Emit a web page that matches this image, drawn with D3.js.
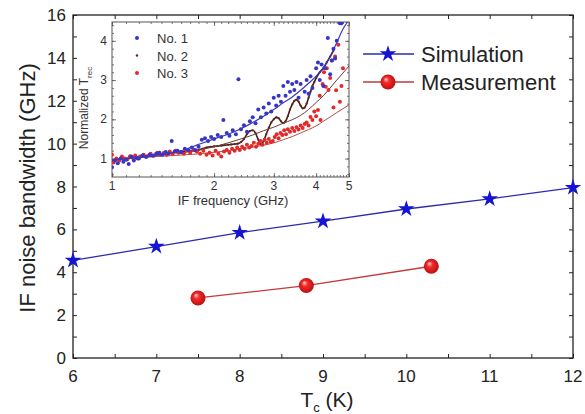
<!DOCTYPE html>
<html>
<head>
<meta charset="utf-8">
<script src="https://cdn.jsdelivr.net/npm/d3@7"></script>
<style>
  body { margin: 0; background: #fff; }
  svg { display: block; font-family: "Liberation Sans", Arial, sans-serif; }
</style>
</head>
<body>
<div id="chart"></div>
<script>
// main plot data: IF noise bandwidth vs Tc
const simTc = [6, 7, 8, 9, 10, 11, 12];
const simBw = [4.55, 5.2, 5.85, 6.38, 6.95, 7.42, 7.95];
const measTc = [7.5, 8.8, 10.3];
const measBw = [2.8, 3.38, 4.28];

const xTicks = [6, 7, 8, 9, 10, 11, 12];
const yTicks = [0, 2, 4, 6, 8, 10, 12, 14, 16];

// inset data: normalized Trec vs IF frequency, [GHz, Trec]
const no1 = [[1.0,0.78],[1.02,0.95],[1.04,0.88],[1.06,1.0],[1.08,0.92],[1.1,0.97],[1.12,0.86],[1.14,1.05],[1.16,0.95],[1.18,1.02],[1.2,1.0],[1.23,1.08],[1.26,1.04],[1.29,1.1],[1.32,1.07],[1.35,1.12],[1.38,1.15],[1.41,1.1],[1.44,1.17],[1.47,1.13],[1.5,1.45],[1.53,1.18],[1.56,1.2],[1.6,1.16],[1.64,1.25],[1.68,1.22],[1.72,1.28],[1.76,1.22],[1.8,1.3],[1.84,1.48],[1.88,1.52],[1.92,1.45],[1.96,1.55],[2.0,1.5],[2.05,1.6],[2.1,1.55],[2.13,1.98],[2.18,1.65],[2.22,1.58],[2.27,1.72],[2.32,1.62],[2.36,3.02],[2.4,1.75],[2.45,1.85],[2.5,1.68],[2.55,1.95],[2.6,2.05],[2.65,1.9],[2.7,2.25],[2.75,2.05],[2.8,2.3],[2.85,2.15],[2.9,2.4],[2.95,2.2],[3.0,2.55],[3.05,2.35],[3.1,2.6],[3.15,2.45],[3.2,2.85],[3.25,2.6],[3.3,2.95],[3.35,2.7],[3.4,2.9],[3.45,2.75],[3.5,2.95],[3.55,2.55],[3.6,2.9],[3.7,2.7],[3.75,3.0],[3.8,2.65],[3.85,3.1],[3.9,2.8],[4.0,3.3],[4.05,3.45],[4.1,3.0],[4.15,3.4],[4.2,2.85],[4.25,3.3],[4.33,4.07],[4.4,3.15],[4.45,3.5],[4.5,3.8],[4.55,3.55],[4.6,4.0],[4.7,4.45],[4.75,4.45]];

const no2 = [[1.0,0.95],[1.05,0.98],[1.1,1.0],[1.15,1.02],[1.2,1.04],[1.25,1.06],[1.3,1.08],[1.35,1.1],[1.4,1.11],[1.45,1.13],[1.5,1.14],[1.55,1.16],[1.6,1.17],[1.65,1.18],[1.7,1.19],[1.75,1.2],[1.8,1.22],[1.85,1.25],[1.9,1.28],[1.95,1.3],[2.0,1.31],[2.05,1.32],[2.1,1.33],[2.15,1.34],[2.2,1.35],[2.25,1.36],[2.3,1.37],[2.35,1.38],[2.4,1.42],[2.45,1.5],[2.5,1.62],[2.55,1.7],[2.6,1.72],[2.65,1.65],[2.7,1.48],[2.75,1.36],[2.8,1.45],[2.85,1.62],[2.9,1.78],[2.95,1.92],[3.0,2.0],[3.05,2.05],[3.1,2.03],[3.15,1.95],[3.2,1.9],[3.25,1.95],[3.3,2.08],[3.35,2.25],[3.4,2.38],[3.45,2.47],[3.5,2.5],[3.55,2.45],[3.6,2.35],[3.65,2.28],[3.7,2.3],[3.75,2.4],[3.8,2.55],[3.85,2.7],[3.9,2.85],[3.95,2.95],[4.0,3.05],[4.1,3.2],[4.2,3.3],[4.3,3.45],[4.4,3.6],[4.5,3.75]];

const no3 = [[1.0,1.1],[1.01,0.9],[1.03,1.0],[1.05,0.95],[1.07,1.05],[1.09,1.0],[1.11,0.98],[1.13,1.06],[1.15,1.02],[1.17,1.08],[1.19,1.0],[1.21,1.05],[1.24,1.1],[1.27,1.06],[1.3,1.12],[1.33,1.08],[1.36,1.15],[1.39,1.1],[1.42,1.14],[1.45,1.1],[1.48,1.18],[1.51,1.12],[1.54,1.2],[1.57,1.15],[1.6,1.17],[1.63,1.12],[1.66,1.2],[1.7,1.15],[1.74,1.22],[1.78,1.18],[1.82,1.12],[1.86,1.2],[1.9,1.1],[1.94,1.15],[1.98,1.08],[2.02,1.2],[2.06,1.12],[2.1,1.05],[2.14,1.18],[2.18,1.22],[2.22,1.15],[2.26,1.25],[2.3,1.2],[2.34,1.28],[2.38,1.22],[2.42,1.3],[2.46,1.25],[2.5,1.35],[2.54,1.28],[2.58,1.32],[2.62,1.4],[2.66,1.3],[2.7,1.38],[2.74,1.45],[2.78,1.35],[2.82,1.48],[2.86,1.4],[2.9,1.5],[2.94,1.42],[2.98,1.45],[3.02,1.55],[3.06,1.62],[3.1,1.52],[3.14,1.65],[3.18,1.6],[3.22,1.72],[3.26,1.62],[3.3,1.75],[3.35,1.68],[3.4,1.78],[3.45,1.7],[3.5,1.8],[3.55,1.74],[3.6,1.84],[3.65,1.78],[3.7,1.88],[3.75,1.92],[3.8,1.84],[3.85,2.06],[3.9,1.98],[3.95,2.2],[4.0,2.08],[4.05,2.24],[4.1,2.6],[4.12,1.98],[4.18,2.9],[4.22,3.2],[4.27,2.83],[4.3,3.3],[4.35,2.75],[4.4,3.05],[4.45,3.5],[4.5,2.3],[4.55,3.6],[4.58,2.74],[4.65,3.9],[4.7,2.45],[4.75,2.85],[4.8,3.3]];

// smooth fit curves
const fit1 = [[1.0,0.97],[1.2,1.03],[1.4,1.1],[1.6,1.2],[1.8,1.36],[2.0,1.5],[2.2,1.62],[2.4,1.76],[2.6,1.92],[2.8,2.08],[3.0,2.25],[3.2,2.42],[3.4,2.57],[3.6,2.74],[3.8,2.92],[4.0,3.1],[4.2,3.32],[4.4,3.6],[4.6,3.95],[4.8,4.3],[4.95,4.48]];
const fit2 = [[1.8,1.22],[2.0,1.3],[2.2,1.4],[2.4,1.5],[2.6,1.6],[2.8,1.71],[3.0,1.8],[3.2,1.9],[3.4,1.99],[3.6,2.1],[3.8,2.25],[4.0,2.43],[4.2,2.6],[4.4,2.8],[4.6,3.0],[4.8,3.18],[5.0,3.36]];
const fit3 = [[1.0,0.97],[1.2,1.02],[1.4,1.06],[1.6,1.09],[1.8,1.12],[2.0,1.16],[2.2,1.2],[2.4,1.25],[2.6,1.29],[2.8,1.34],[3.0,1.4],[3.2,1.48],[3.4,1.56],[3.6,1.65],[3.8,1.74],[4.0,1.83],[4.2,1.95],[4.4,2.06],[4.6,2.17],[4.8,2.27],[5.0,2.37]];

const insetXTicks = [1, 2, 3, 4, 5];
const insetYTicks = [1, 2, 3, 4];

window.addEventListener('DOMContentLoaded', function() {
  const W = 585, H = 414;
  const svg = d3.select("#chart").append("svg")
    .attr("width", W)
    .attr("height", H);

  const blue = "#1414d2";

  // ---------- main plot ----------
  const x = d3.scaleLinear().domain([6, 12]).range([73, 573]);
  const y = d3.scaleLinear().domain([0, 16]).range([358, 15]);

  const defs = svg.append("defs");
  const grad = defs.append("radialGradient")
    .attr("id", "ball")
    .attr("cx", "50%").attr("cy", "50%").attr("r", "55%")
    .attr("fx", "35%").attr("fy", "30%");
  grad.append("stop").attr("offset", "0%").attr("stop-color", "#ffd0d0");
  grad.append("stop").attr("offset", "35%").attr("stop-color", "#f22a2a");
  grad.append("stop").attr("offset", "100%").attr("stop-color", "#b80c0c");

  // ticks: inward on all four sides
  const xMinor = d3.range(6, 12.01, 0.5);
  const yMinor = d3.range(0, 16.01, 1);
  svg.append("g").attr("transform", "translate(0,358)")
    .call(d3.axisBottom(x).tickValues(xMinor).tickSize(-4).tickFormat(""));
  svg.append("g").attr("transform", "translate(0,15)")
    .call(d3.axisTop(x).tickValues(xMinor).tickSize(-4).tickFormat(""));
  svg.append("g").attr("transform", "translate(73,0)")
    .call(d3.axisLeft(y).tickValues(yMinor).tickSize(-4).tickFormat(""));
  svg.append("g").attr("transform", "translate(573,0)")
    .call(d3.axisRight(y).tickValues(yMinor).tickSize(-4).tickFormat(""));
  svg.selectAll(".domain").remove();
  svg.selectAll(".tick line").attr("stroke", "#222").attr("stroke-width", 1);

  // frame
  svg.append("rect")
    .attr("x", 73).attr("y", 15)
    .attr("width", 500).attr("height", 343)
    .attr("fill", "none")
    .attr("stroke", "#222")
    .attr("stroke-width", 1.3);

  // tick labels
  svg.append("g").selectAll("text")
    .data(xTicks).enter().append("text")
    .attr("x", d => x(d))
    .attr("y", 382)
    .attr("text-anchor", "middle")
    .style("font-size", "17px")
    .attr("fill", "#222")
    .text(d => d);
  svg.append("g").selectAll("text")
    .data(yTicks).enter().append("text")
    .attr("x", 66)
    .attr("y", d => y(d) + 6)
    .attr("text-anchor", "end")
    .style("font-size", "17px")
    .attr("fill", "#222")
    .text(d => d);

  // axis titles
  svg.append("text")
    .attr("transform", "rotate(-90)")
    .attr("x", -188).attr("y", 35)
    .attr("text-anchor", "middle")
    .style("font-size", "22px")
    .attr("fill", "#222")
    .text("IF noise bandwidth (GHz)");
  const xt = svg.append("text")
    .attr("x", 327).attr("y", 407)
    .attr("text-anchor", "middle")
    .style("font-size", "21px")
    .attr("fill", "#222");
  xt.append("tspan").text("T");
  xt.append("tspan").attr("dy", 5).style("font-size", "13px").text("c");
  xt.append("tspan").attr("dy", -5).text(" (K)");

  // series
  const mainLine = d3.line().x(d => x(d[0])).y(d => y(d[1]));
  const sim = simTc.map((t, i) => [t, simBw[i]]);
  const meas = measTc.map((t, i) => [t, measBw[i]]);

  svg.append("path").datum(sim)
    .attr("fill", "none").attr("stroke", "#2b2bb0").attr("stroke-width", 1.3)
    .attr("d", mainLine);
  svg.append("path").datum(meas)
    .attr("fill", "none").attr("stroke", "#c23a3a").attr("stroke-width", 1.3)
    .attr("d", mainLine);

  const star = d3.symbol().type(d3.symbolStar).size(85);
  svg.selectAll(".star").data(sim).enter().append("path")
    .attr("class", "star")
    .attr("transform", d => `translate(${x(d[0])},${y(d[1])})`)
    .attr("d", star)
    .attr("fill", blue);
  svg.selectAll(".ball").data(meas).enter().append("circle")
    .attr("class", "ball")
    .attr("cx", d => x(d[0])).attr("cy", d => y(d[1]))
    .attr("r", 7.5)
    .attr("fill", "url(#ball)");

  // legend
  const legend = [
    {label: "Simulation", y: 54, color: "#2b2bb0"},
    {label: "Measurement", y: 82, color: "#c23a3a"}
  ];
  legend.forEach(function(l, i) {
    svg.append("line")
      .attr("x1", 363).attr("x2", 414)
      .attr("y1", l.y).attr("y2", l.y)
      .attr("stroke", l.color).attr("stroke-width", 1.3);
    if (i === 0) {
      svg.append("path").attr("transform", `translate(388,${l.y})`)
        .attr("d", star).attr("fill", blue);
    } else {
      svg.append("circle").attr("cx", 388).attr("cy", l.y).attr("r", 7.5)
        .attr("fill", "url(#ball)");
    }
    svg.append("text")
      .attr("x", 421).attr("y", l.y + 8)
      .style("font-size", "22px")
      .attr("fill", "#222")
      .text(l.label);
  });

  // ---------- inset ----------
  const ix = d3.scaleLog().domain([1, 5]).range([112, 349]);
  const iy = d3.scaleLinear().domain([0.53, 4.48]).range([177, 22]);

  svg.append("rect")
    .attr("x", 112).attr("y", 22)
    .attr("width", 237).attr("height", 155)
    .attr("fill", "#fff");

  const clip = defs.append("clipPath").attr("id", "insetClip");
  clip.append("rect").attr("x", 112).attr("y", 22).attr("width", 237).attr("height", 155);

  const ixMinor = d3.range(1, 5.001, 0.1);
  const iyMinor = d3.range(0.6, 4.48, 0.2);
  const insetAxes = svg.append("g");
  insetAxes.append("g").attr("transform", "translate(0,177)")
    .call(d3.axisBottom(ix).tickValues(ixMinor).tickSize(-2).tickFormat(""));
  insetAxes.append("g").attr("transform", "translate(0,22)")
    .call(d3.axisTop(ix).tickValues(ixMinor).tickSize(-2).tickFormat(""));
  insetAxes.append("g").attr("transform", "translate(0,177)")
    .call(d3.axisBottom(ix).tickValues(insetXTicks).tickSize(-4).tickFormat(""));
  insetAxes.append("g").attr("transform", "translate(0,22)")
    .call(d3.axisTop(ix).tickValues(insetXTicks).tickSize(-4).tickFormat(""));
  insetAxes.append("g").attr("transform", "translate(112,0)")
    .call(d3.axisLeft(iy).tickValues(iyMinor).tickSize(-2).tickFormat(""));
  insetAxes.append("g").attr("transform", "translate(349,0)")
    .call(d3.axisRight(iy).tickValues(iyMinor).tickSize(-2).tickFormat(""));
  insetAxes.append("g").attr("transform", "translate(112,0)")
    .call(d3.axisLeft(iy).tickValues(insetYTicks).tickSize(-4).tickFormat(""));
  insetAxes.append("g").attr("transform", "translate(349,0)")
    .call(d3.axisRight(iy).tickValues(insetYTicks).tickSize(-4).tickFormat(""));
  insetAxes.selectAll(".domain").remove();
  insetAxes.selectAll(".tick line").attr("stroke", "#555").attr("stroke-width", 0.8);

  svg.append("rect")
    .attr("x", 112).attr("y", 22)
    .attr("width", 237).attr("height", 155)
    .attr("fill", "none")
    .attr("stroke", "#555")
    .attr("stroke-width", 1);

  svg.append("g").selectAll("text")
    .data(insetXTicks).enter().append("text")
    .attr("x", d => ix(d)).attr("y", 190)
    .attr("text-anchor", "middle")
    .style("font-size", "12px").attr("fill", "#333")
    .text(d => d);
  svg.append("g").selectAll("text")
    .data(insetYTicks).enter().append("text")
    .attr("x", 107).attr("y", d => iy(d) + 4)
    .attr("text-anchor", "end")
    .style("font-size", "12px").attr("fill", "#333")
    .text(d => d);

  svg.append("text")
    .attr("x", 233).attr("y", 205)
    .attr("text-anchor", "middle")
    .style("font-size", "13px").attr("fill", "#333")
    .text("IF frequency (GHz)");
  const iyt = svg.append("text")
    .attr("transform", "rotate(-90)")
    .attr("x", -108).attr("y", 88)
    .attr("text-anchor", "middle")
    .style("font-size", "12px").attr("fill", "#333");
  iyt.append("tspan").text("Normalized T");
  iyt.append("tspan").attr("dy", 4).style("font-size", "8px").text("rec");

  const plot = svg.append("g").attr("clip-path", "url(#insetClip)");
  const iline = d3.line().x(d => ix(d[0])).y(d => iy(d[1])).curve(d3.curveMonotoneX);

  // No. 2 drawn first so the other points sit on top of it at low frequency
  plot.append("path").datum(no2)
    .attr("fill", "none").attr("stroke", "#4a1a12").attr("stroke-width", 1.6)
    .attr("d", iline);
  plot.selectAll(".p2").data(no2).enter().append("circle")
    .attr("cx", d => ix(d[0])).attr("cy", d => iy(d[1]))
    .attr("r", 1.1).attr("fill", "#5a2a22");

  // fits
  plot.append("path").datum(fit3)
    .attr("fill", "none").attr("stroke", "#b84a4a").attr("stroke-width", 1)
    .attr("d", iline);
  plot.append("path").datum(fit2)
    .attr("fill", "none").attr("stroke", "#6a3a34").attr("stroke-width", 1)
    .attr("d", iline);

  // scatter points
  plot.selectAll(".p3").data(no3).enter().append("circle")
    .attr("cx", d => ix(d[0])).attr("cy", d => iy(d[1]))
    .attr("r", 2).attr("fill", "#e22a2a");
  plot.selectAll(".p1").data(no1).enter().append("circle")
    .attr("cx", d => ix(d[0])).attr("cy", d => iy(d[1]))
    .attr("r", 2).attr("fill", "#3535cc");
  plot.append("path").datum(fit1)
    .attr("fill", "none").attr("stroke", "#3a3ab8").attr("stroke-width", 1.2)
    .attr("d", iline);

  // inset legend
  const ilegend = [
    {label: "No. 1", color: "#3535cc", r: 2},
    {label: "No. 2", color: "#5a2a22", r: 1.2},
    {label: "No. 3", color: "#e22a2a", r: 2}
  ];
  ilegend.forEach(function(l, i) {
    const ly = 38 + i * 17.5;
    svg.append("circle").attr("cx", 137).attr("cy", ly).attr("r", l.r).attr("fill", l.color);
    svg.append("text")
      .attr("x", 157).attr("y", ly + 5)
      .style("font-size", "13px").attr("fill", "#333")
      .text(l.label);
  });
});
</script>
</body>
</html>
